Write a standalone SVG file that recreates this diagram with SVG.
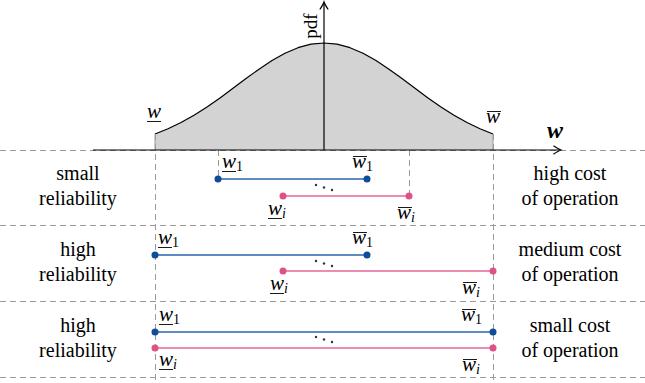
<svg xmlns="http://www.w3.org/2000/svg" width="645" height="383" viewBox="0 0 645 383" font-family="'Liberation Serif', 'Times New Roman', Times, serif">
<style>
text{font-family:'Liberation Serif','Times New Roman',Times,serif}
.txt{font-size:20px;fill:#000;text-anchor:middle}
.m{font-size:21px;font-style:italic;fill:#000}
.s{font-size:14px;font-style:normal}
.si{font-size:14px;font-style:italic}
.dash{stroke:#9a9a9a;stroke-width:1;stroke-dasharray:6 4;fill:none}
.bar{stroke-width:1.3;fill:none}
.blue{stroke:#2d64a8}
.pink{stroke:#e5679a}
.bd{fill:#0f4d98}
.pd{fill:#de5288}
.rule{stroke:#000;stroke-width:0.9}
.ax{stroke:#000;stroke-width:1.2;fill:none}
.dots{fill:#333}
</style>
<g id="grid">
<line class="dash" x1="0" y1="150.5" x2="645" y2="150.5"/>
<line class="dash" x1="0" y1="225.5" x2="645" y2="225.5"/>
<line class="dash" x1="0" y1="301.5" x2="645" y2="301.5"/>
<line class="dash" x1="0" y1="377.5" x2="645" y2="377.5"/>
</g>
<g id="density">
<path d="M155,150 L155,134 L168,128.8 L181,122.5 L194,115.2 L207,107 L220,97.9 L233,88.3 L246,78.6 L259,69.2 L272,60.6 L285,53.3 L298,47.7 L311,44.2 L324,43 L337,44.2 L350,47.7 L363,53.3 L376,60.6 L389,69.2 L402,78.6 L415,88.3 L428,97.9 L441,107 L454,115.2 L467,122.5 L480,128.8 L493,134 L493,150 Z" fill="#d3d3d3" stroke="none"/>
<path d="M155,134 L168,128.8 L181,122.5 L194,115.2 L207,107 L220,97.9 L233,88.3 L246,78.6 L259,69.2 L272,60.6 L285,53.3 L298,47.7 L311,44.2 L324,43 L337,44.2 L350,47.7 L363,53.3 L376,60.6 L389,69.2 L402,78.6 L415,88.3 L428,97.9 L441,107 L454,115.2 L467,122.5 L480,128.8 L493,134" fill="none" stroke="#000" stroke-width="1.2" stroke-linejoin="round"/>
<line x1="155" y1="134" x2="155" y2="150" stroke="#9a9a9a" stroke-width="1"/>
<line x1="493" y1="134" x2="493" y2="150" stroke="#9a9a9a" stroke-width="1"/>
<text class="m" x="147" y="118">w</text>
<line class="rule" x1="147" y1="121.5" x2="161" y2="121.5"/>
<text class="m" x="486" y="123">w</text>
<line class="rule" x1="487" y1="111.5" x2="501" y2="111.5"/>
</g>
<g id="connectors">
<line class="dash" x1="155.5" y1="134" x2="155.5" y2="383"/>
<line class="dash" x1="493.5" y1="134" x2="493.5" y2="383"/>
<line class="dash" x1="218.5" y1="150" x2="218.5" y2="179"/>
<line class="dash" x1="409.5" y1="150" x2="409.5" y2="196"/>
</g>
<g id="axes">
<line class="ax" x1="93" y1="150" x2="560" y2="150"/>
<path class="ax" d="M553.5,145.8 C556,147.5 558.5,149.2 561,150 C558.5,150.8 556,152.5 553.5,154.2"/>
<line class="ax" x1="324" y1="150" x2="324" y2="3"/>
<path class="ax" d="M319.8,9.5 C321.5,7 323.2,4.5 324,2 C324.8,4.5 326.5,7 328.2,9.5"/>
<text class="txt" transform="translate(317,26) rotate(-90)" x="0" y="0" style="font-size:19px">pdf</text>
<text class="m" x="547" y="138" style="font-weight:bold;font-size:24px">w</text>
</g>
<g id="row1">
<text class="txt" x="78" y="180">small</text>
<text class="txt" x="78" y="205">reliability</text>
<text class="txt" x="570" y="180">high cost</text>
<text class="txt" x="570" y="205">of operation</text>
<line class="bar blue" x1="218" y1="179" x2="367" y2="179"/>
<circle class="bd" cx="218" cy="179" r="3.5"/>
<circle class="bd" cx="367" cy="179" r="3.5"/>
<line class="bar pink" x1="283" y1="196" x2="409" y2="196"/>
<circle class="pd" cx="283" cy="196" r="3.5"/>
<circle class="pd" cx="409" cy="196" r="3.5"/>
<circle class="dots" cx="316" cy="185" r="1.2"/>
<circle class="dots" cx="324" cy="187.5" r="1.2"/>
<circle class="dots" cx="332" cy="190" r="1.2"/>
<text class="m" x="222" y="168">w<tspan class="s" dy="3">1</tspan></text>
<line class="rule" x1="222" y1="171.5" x2="236" y2="171.5"/>
<text class="m" x="352" y="168">w<tspan class="s" dy="3">1</tspan></text>
<line class="rule" x1="353" y1="156.5" x2="367" y2="156.5"/>
<text class="m" x="268" y="215">w<tspan class="si" dy="3">i</tspan></text>
<line class="rule" x1="268" y1="218.5" x2="282" y2="218.5"/>
<text class="m" x="397" y="219">w<tspan class="si" dy="3">i</tspan></text>
<line class="rule" x1="398" y1="207.5" x2="412" y2="207.5"/>
</g>
<g id="row2">
<text class="txt" x="78" y="256">high</text>
<text class="txt" x="78" y="281">reliability</text>
<text class="txt" x="570" y="256">medium cost</text>
<text class="txt" x="570" y="281">of operation</text>
<line class="bar blue" x1="155" y1="255" x2="367" y2="255"/>
<circle class="bd" cx="155" cy="255" r="3.5"/>
<circle class="bd" cx="367" cy="255" r="3.5"/>
<line class="bar pink" x1="283" y1="271" x2="493" y2="271"/>
<circle class="pd" cx="283" cy="271" r="3.5"/>
<circle class="pd" cx="493" cy="271" r="3.5"/>
<circle class="dots" cx="316" cy="261" r="1.2"/>
<circle class="dots" cx="324" cy="263.5" r="1.2"/>
<circle class="dots" cx="332" cy="266" r="1.2"/>
<text class="m" x="158" y="244">w<tspan class="s" dy="3">1</tspan></text>
<line class="rule" x1="158" y1="247.5" x2="172" y2="247.5"/>
<text class="m" x="352" y="244">w<tspan class="s" dy="3">1</tspan></text>
<line class="rule" x1="353" y1="232.5" x2="367" y2="232.5"/>
<text class="m" x="270" y="290">w<tspan class="si" dy="3">i</tspan></text>
<line class="rule" x1="270" y1="293.5" x2="284" y2="293.5"/>
<text class="m" x="462" y="294">w<tspan class="si" dy="3">i</tspan></text>
<line class="rule" x1="463" y1="282.5" x2="477" y2="282.5"/>
</g>
<g id="row3">
<text class="txt" x="78" y="332">high</text>
<text class="txt" x="78" y="357">reliability</text>
<text class="txt" x="570" y="332">small cost</text>
<text class="txt" x="570" y="357">of operation</text>
<line class="bar blue" x1="155" y1="332" x2="493" y2="332"/>
<circle class="bd" cx="155" cy="332" r="3.5"/>
<circle class="bd" cx="493" cy="332" r="3.5"/>
<line class="bar pink" x1="155" y1="348" x2="493" y2="348"/>
<circle class="pd" cx="155" cy="348" r="3.5"/>
<circle class="pd" cx="493" cy="348" r="3.5"/>
<circle class="dots" cx="316" cy="337" r="1.2"/>
<circle class="dots" cx="324" cy="339.5" r="1.2"/>
<circle class="dots" cx="332" cy="342" r="1.2"/>
<text class="m" x="159" y="321">w<tspan class="s" dy="3">1</tspan></text>
<line class="rule" x1="159" y1="324.5" x2="173" y2="324.5"/>
<text class="m" x="461" y="321">w<tspan class="s" dy="3">1</tspan></text>
<line class="rule" x1="462" y1="309.5" x2="476" y2="309.5"/>
<text class="m" x="159" y="366">w<tspan class="si" dy="3">i</tspan></text>
<line class="rule" x1="159" y1="369.5" x2="173" y2="369.5"/>
<text class="m" x="462" y="371">w<tspan class="si" dy="3">i</tspan></text>
<line class="rule" x1="463" y1="359.5" x2="477" y2="359.5"/>
</g>
</svg>
